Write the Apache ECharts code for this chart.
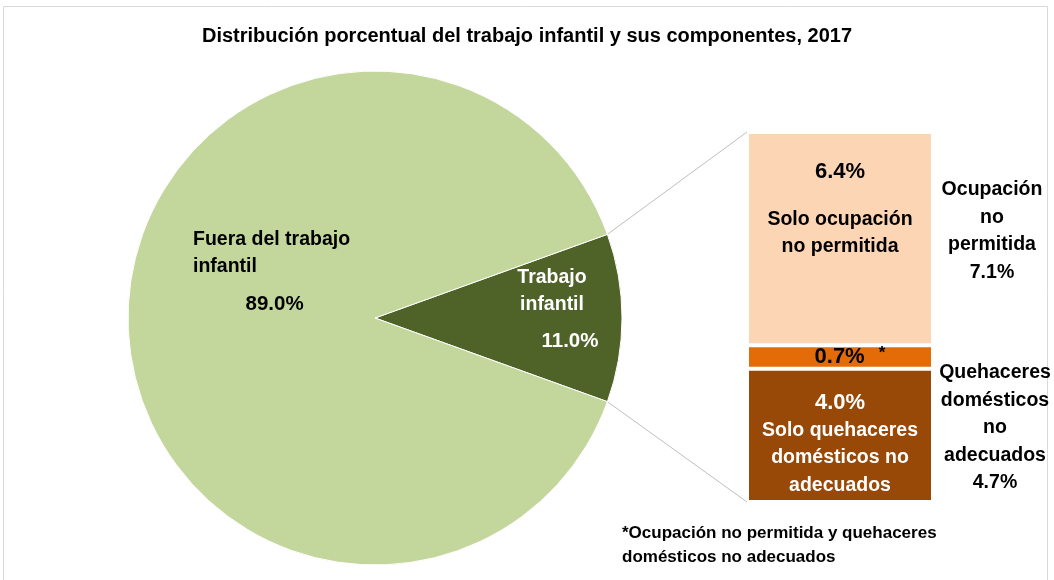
<!DOCTYPE html>
<html>
<head>
<meta charset="utf-8">
<script src="https://cdn.jsdelivr.net/npm/echarts@6/dist/echarts.min.js"></script>
<style>
  html, body { margin: 0; padding: 0; background: #fff; }
  #chart { width: 1054px; height: 580px; }
</style>
</head>
<body>
<div id="chart"></div>
<script>
// Pie principal
const pieNames = ['Trabajo\ninfantil', 'Fuera del trabajo\ninfantil'];
const pieValues = [11.0, 89.0];
const pieColors = ['#4F6228', '#C3D69B'];

// Barra de componentes (de abajo hacia arriba)
const barNames = ['Solo quehaceres\ndomésticos no\nadecuados', '', 'Solo ocupación\nno permitida'];
const barValues = [4.0, 0.7, 6.4];
const barColors = ['#984807', '#E36C09', '#FCD5B5'];

// Totales a la derecha
const sideNames = ['Ocupación\nno\npermitida', 'Quehaceres\ndomésticos\nno\nadecuados'];
const sideValues = [7.1, 4.7];

const FONT = '"Liberation Sans", Arial, sans-serif';
const pieCenter = [375, 318];
const pieRadius = 247;
const halfAngle = pieValues[0] / 100 * 180;
const gridLeft = 747, gridTop = 132, gridW = 186, gridH = 370;
const barTotal = barValues.reduce((a, b) => a + b, 0);

const chart = echarts.init(document.getElementById('chart'));

const pct = v => v.toFixed(1) + '%';

const barLabels = [
    {   // marrón
        show: true,
        position: [gridW / 2, 21],
        align: 'center',
        verticalAlign: 'top',
        formatter: p => '{v|' + pct(p.value) + '}\n' + barNames[0].split('\n').map(s => '{n|' + s + '}').join('\n'),
        rich: {
            v: { fontFamily: FONT, fontSize: 22, fontWeight: 'bold', color: '#fff', lineHeight: 27, align: 'center' },
            n: { fontFamily: FONT, fontSize: 19.5, fontWeight: 'bold', color: '#fff', lineHeight: 27.5, align: 'center' }
        }
    },
    {   // naranja
        show: true,
        position: 'inside',
        offset: [10, 0],
        formatter: p => '{v|' + pct(p.value) + '}{s|   *}',
        rich: {
            v: { fontFamily: FONT, fontSize: 22, fontWeight: 'bold', color: '#000' },
            s: { fontFamily: FONT, fontSize: 17, fontWeight: 'bold', color: '#000', padding: [0, 0, 8, 0] }
        }
    },
    {   // durazno
        show: true,
        position: [gridW / 2, 6],
        align: 'center',
        verticalAlign: 'top',
        formatter: p => '{v|' + pct(p.value) + '}\n' + barNames[2].split('\n').map(s => '{n|' + s + '}').join('\n'),
        rich: {
            v: { fontFamily: FONT, fontSize: 22, fontWeight: 'bold', color: '#000', lineHeight: 68, align: 'center' },
            n: { fontFamily: FONT, fontSize: 19.5, fontWeight: 'bold', color: '#000', lineHeight: 27, align: 'center' }
        }
    }
];

const option = {
    animation: false,
    backgroundColor: '#fff',
    title: {
        text: 'Distribución porcentual del trabajo infantil y sus componentes, 2017',
        left: 'center',
        top: 21,
        textStyle: { fontFamily: FONT, fontSize: 20, fontWeight: 'bold', color: '#000' }
    },
    grid: { left: gridLeft, top: gridTop, width: gridW, height: gridH },
    xAxis: { type: 'category', data: ['Trabajo infantil'], show: false },
    yAxis: { type: 'value', min: 0, max: barTotal, show: false },
    series: [
        {
            type: 'pie',
            center: pieCenter,
            radius: pieRadius,
            startAngle: halfAngle,
            clockwise: true,
            silent: true,
            itemStyle: { borderColor: '#fff', borderWidth: 1 },
            data: pieValues.map((v, i) => ({
                value: v,
                name: pieNames[i],
                itemStyle: { color: pieColors[i] }
            })),
            label: {
                show: true,
                position: 'inside',
                formatter: p => p.name.split('\n').map(s => '{n' + p.dataIndex + '|' + s + '}').join('\n') + '\n{p' + p.dataIndex + '|' + pct(p.value) + '}',
                rich: {
                    n0: { fontFamily: FONT, fontSize: 19.5, fontWeight: 'bold', color: '#fff', lineHeight: 27, align: 'center' },
                    p0: { fontFamily: FONT, fontSize: 20.5, fontWeight: 'bold', color: '#fff', lineHeight: 47, align: 'center', padding: [0, 0, 0, 36] },
                    n1: { fontFamily: FONT, fontSize: 19.5, fontWeight: 'bold', color: '#000', lineHeight: 27, align: 'left' },
                    p1: { fontFamily: FONT, fontSize: 20.5, fontWeight: 'bold', color: '#000', lineHeight: 49, align: 'center', padding: [0, 0, 0, 6] }
                }
            },
            labelLine: { show: false },
            labelLayout: p => p.dataIndex === 0
                ? { x: 552, y: 264, align: 'center', verticalAlign: 'top' }
                : { x: 193, y: 226, align: 'left', verticalAlign: 'top' }
        }
    ].concat(barValues.map((v, i) => ({
        type: 'bar',
        stack: 'ti',
        barWidth: '100%',
        silent: true,
        data: [v],
        itemStyle: { color: barColors[i], borderColor: '#fff', borderWidth: 2 },
        label: barLabels[i]
    })))
};

chart.setOption(option);

// Líneas de conexión y textos laterales
const a = halfAngle * Math.PI / 180;
const px = pieCenter[0] + pieRadius * Math.cos(a);
const pyTop = pieCenter[1] - pieRadius * Math.sin(a);
const pyBot = pieCenter[1] + pieRadius * Math.sin(a);
const barTopY = chart.convertToPixel({ yAxisIndex: 0 }, barTotal);
const barBotY = chart.convertToPixel({ yAxisIndex: 0 }, 0);
const lineStyle = { stroke: '#BFBFBF', lineWidth: 1 };
const sideStyle = { fontFamily: FONT, fontSize: 19.5, fontWeight: 'bold', fill: '#000', align: 'center', lineHeight: 27.5 };

chart.setOption({
    graphic: [
        { type: 'rect', shape: { x: 3.5, y: 6.5, width: 1044, height: 600 }, style: { fill: null, stroke: '#D9D9D9', lineWidth: 1 }, silent: true },
        { type: 'line', shape: { x1: px, y1: pyTop, x2: gridLeft, y2: barTopY }, style: lineStyle, silent: true },
        { type: 'line', shape: { x1: px, y1: pyBot, x2: gridLeft, y2: barBotY }, style: lineStyle, silent: true },
        { type: 'text', x: 992, y: 176, style: Object.assign({ text: sideNames[0] + '\n' + pct(sideValues[0]) }, sideStyle) },
        { type: 'text', x: 995, y: 359, style: Object.assign({ text: sideNames[1] + '\n' + pct(sideValues[1]) }, sideStyle) },
        { type: 'text', x: 622, y: 521, style: { text: '*Ocupación no permitida y quehaceres\ndomésticos no adecuados', fontFamily: FONT, fontSize: 17, fontWeight: 'bold', fill: '#000', lineHeight: 24 } }
    ]
});
</script>
</body>
</html>
